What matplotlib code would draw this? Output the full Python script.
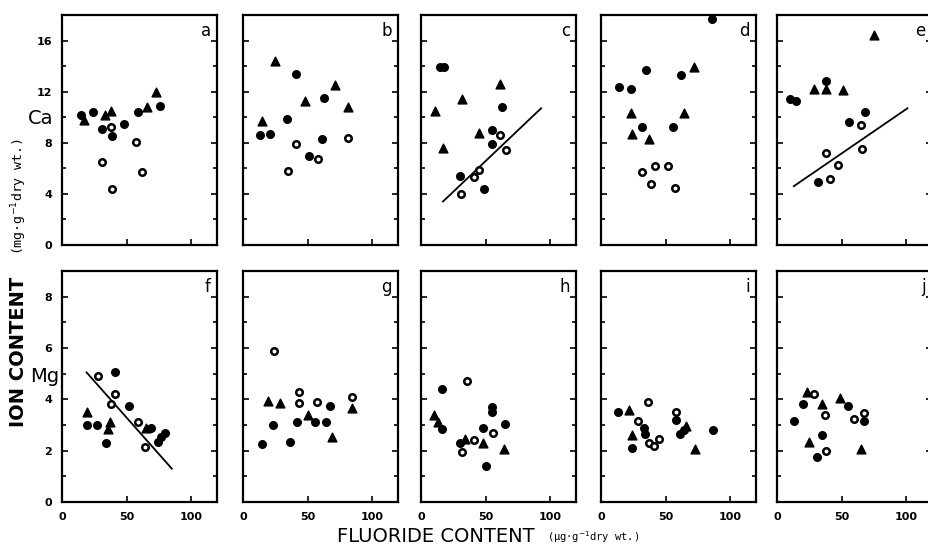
import matplotlib
matplotlib.use("Agg")
import matplotlib.pyplot as plt
from matplotlib.ticker import MultipleLocator

# --- data: (fluoride, ion) ---
# Ca panels
a_fill = [(24, 10.4), (31, 9.1), (39, 8.5), (48, 9.5), (59, 10.4), (76, 10.9), (15, 10.2)]
a_tri = [(17, 9.8), (33, 10.2), (38, 10.5), (66, 10.8), (73, 12.0)]
a_open = [(38, 9.2), (31, 6.5), (39, 4.4), (57, 8.1), (62, 5.7)]

b_fill = [(13, 8.6), (21, 8.7), (34, 9.9), (41, 13.4), (51, 7.0), (61, 8.3), (63, 11.5)]
b_tri = [(15, 9.7), (25, 14.4), (48, 11.3), (71, 12.5), (81, 10.8)]
b_open = [(41, 7.9), (35, 5.8), (58, 6.7), (81, 8.4)]

c_fill = [(15, 13.9), (18, 13.9), (63, 10.8), (55, 9.0), (55, 7.9), (30, 5.4), (49, 4.4)]
c_tri = [(11, 10.5), (32, 11.4), (61, 12.6), (17, 7.6), (45, 8.8)]
c_open = [(61, 8.6), (66, 7.4), (41, 5.3), (45, 5.9), (31, 4.0)]
c_line = [(17, 3.4), (93, 10.7)]

d_fill = [(86, 17.7), (35, 13.7), (62, 13.3), (14, 12.4), (23, 12.2), (32, 9.2), (56, 9.2)]
d_tri = [(72, 13.9), (23, 10.3), (64, 10.3), (24, 8.7), (37, 8.3)]
d_open = [(42, 6.2), (52, 6.2), (32, 5.7), (39, 4.8), (57, 4.5)]

e_fill = [(10, 11.4), (15, 11.3), (38, 12.8), (68, 10.4), (56, 9.6), (32, 4.9)]
e_tri = [(29, 12.2), (38, 12.2), (51, 12.1), (75, 16.4)]
e_open = [(65, 9.4), (66, 7.5), (38, 7.2), (47, 6.3), (41, 5.2)]
e_line = [(13, 4.6), (101, 10.7)]

# Mg panels
f_fill = [(19, 3.0), (27, 3.0), (34, 2.3), (41, 5.05), (52, 3.75), (69, 2.9), (74, 2.35), (77, 2.55), (80, 2.7)]
f_tri = [(19, 3.5), (37, 3.1), (36, 2.85), (65, 2.9)]
f_open = [(28, 4.9), (41, 4.2), (38, 3.8), (59, 3.1), (64, 2.15)]
f_line = [(19, 5.05), (85, 1.3)]

g_fill = [(23, 3.0), (15, 2.25), (36, 2.35), (42, 3.1), (56, 3.1), (67, 3.75), (64, 3.1)]
g_tri = [(19, 3.95), (29, 3.85), (50, 3.4), (69, 2.55), (84, 3.65)]
g_open = [(24, 5.9), (43, 4.3), (43, 3.85), (57, 3.9), (84, 4.1)]

h_fill = [(16, 4.4), (16, 2.85), (55, 3.7), (55, 3.5), (65, 3.05), (48, 2.9), (30, 2.3), (50, 1.4)]
h_tri = [(10, 3.4), (13, 3.1), (34, 2.45), (48, 2.3), (64, 2.05)]
h_open = [(36, 4.7), (56, 2.7), (41, 2.4), (32, 1.95)]

i_fill = [(13, 3.5), (24, 2.1), (33, 2.9), (34, 2.65), (58, 3.2), (61, 2.65), (64, 2.8), (87, 2.8)]
i_tri = [(22, 3.6), (24, 2.6), (66, 2.95), (73, 2.05)]
i_open = [(36, 3.9), (29, 3.15), (37, 2.3), (41, 2.2), (45, 2.45), (58, 3.5)]

j_fill = [(20, 3.8), (13, 3.15), (55, 3.75), (67, 3.15), (35, 2.6), (31, 1.75)]
j_tri = [(23, 4.3), (35, 3.8), (49, 4.05), (25, 2.35), (65, 2.05)]
j_open = [(29, 4.2), (37, 3.4), (60, 3.25), (67, 3.45), (38, 2.0)]

panels = [
    ("a", a_fill, a_tri, a_open, None),
    ("b", b_fill, b_tri, b_open, None),
    ("c", c_fill, c_tri, c_open, c_line),
    ("d", d_fill, d_tri, d_open, None),
    ("e", e_fill, e_tri, e_open, e_line),
    ("f", f_fill, f_tri, f_open, f_line),
    ("g", g_fill, g_tri, g_open, None),
    ("h", h_fill, h_tri, h_open, None),
    ("i", i_fill, i_tri, i_open, None),
    ("j", j_fill, j_tri, j_open, None),
]

W, H = 929, 554
fig = plt.figure(figsize=(W / 100, H / 100), dpi=100)
lefts = [62, 243, 421, 601, 777]
width = 155
rows = [(15, 245), (271, 502)]

for k, (name, fill, tri, opn, line) in enumerate(panels):
    r, c = divmod(k, 5)
    top, bot = rows[r]
    ax = fig.add_axes([lefts[c] / W, 1 - bot / H, width / W, (bot - top) / H])
    for s in ax.spines.values():
        s.set_linewidth(1.6)
    ax.set_xlim(0, 120)
    if r == 0:
        ax.set_ylim(0, 18)
        ax.yaxis.set_major_locator(MultipleLocator(4))
        ax.yaxis.set_minor_locator(MultipleLocator(2))
    else:
        ax.set_ylim(0, 9)
        ax.yaxis.set_major_locator(MultipleLocator(2))
        ax.yaxis.set_minor_locator(MultipleLocator(1))
    ax.xaxis.set_major_locator(MultipleLocator(50))
    ax.tick_params(which="both", direction="in", right=True, width=1.2)
    ax.tick_params(which="major", length=4)
    ax.tick_params(which="minor", length=3)
    ax.tick_params(labelsize=8, pad=7)
    for t in ax.get_xticklabels() + ax.get_yticklabels():
        t.set_fontweight("bold")
    if c != 0:
        ax.tick_params(labelleft=False)
    if r == 0:
        ax.tick_params(labelbottom=False)

    if line is not None:
        ax.plot([p[0] for p in line], [p[1] for p in line], color="black", lw=1.3, zorder=2)
    ax.scatter([p[0] for p in fill], [p[1] for p in fill], s=30, c="black", marker="o", zorder=3)
    ax.scatter([p[0] for p in tri], [p[1] for p in tri], s=40, c="black", marker="^", zorder=3)
    ax.scatter([p[0] for p in opn], [p[1] for p in opn], s=22, facecolors="white",
               edgecolors="black", linewidths=1.8, marker="o", zorder=3)
    ax.text(0.96, 0.97, name, transform=ax.transAxes, ha="right", va="top", fontsize=12)

fig.text(28 / W, 1 - 118 / H, "Ca", fontsize=14, ha="left", va="center")
fig.text(30 / W, 1 - 377 / H, "Mg", fontsize=14, ha="left", va="center")

fig.text(19 / W, 1 - 352 / H, "ION CONTENT", rotation=90, fontsize=14, fontweight="bold",
         ha="center", va="center")
fig.text(19 / W, 1 - 196 / H, "(mg\u00b7g$^{-1}$dry wt.)", rotation=90, fontsize=9.5,
         family="DejaVu Sans Mono", ha="center", va="center")
fig.text(436 / W, 1 - 537 / H, "FLUORIDE CONTENT", fontsize=14, ha="center", va="center")
fig.text(593 / W, 1 - 537 / H, "(\u00b5g\u00b7g$^{-1}$dry wt.)", fontsize=7.5,
         family="DejaVu Sans Mono", ha="center", va="center")

fig.savefig("out.png", dpi=100)
